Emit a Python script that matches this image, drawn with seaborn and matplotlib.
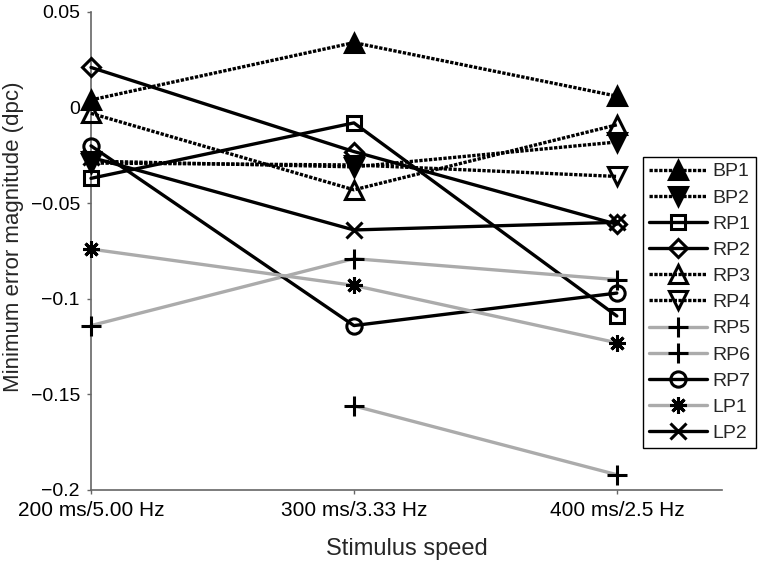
import numpy as np
import pandas as pd
import matplotlib
matplotlib.use('Agg')
import matplotlib.pyplot as plt
import seaborn as sns

# stimulus speed conditions and the per-subject minimum error values (dpc)
conditions = ['200 ms/5.00 Hz', '300 ms/3.33 Hz', '400 ms/2.5 Hz']
subjects = ['BP1', 'BP2', 'RP1', 'RP2', 'RP3', 'RP4', 'RP5', 'RP6', 'RP7', 'LP1', 'LP2']

bp1 = [0.004, 0.034, 0.006]
bp2 = [-0.028, -0.031, -0.018]
rp1 = [-0.037, -0.008, -0.109]
rp2 = [0.021, -0.023, -0.061]
rp3 = [-0.003, -0.043, -0.009]
rp4 = [-0.029, -0.030, -0.036]
rp5 = [-0.114, -0.079, -0.090]
rp6 = [np.nan, -0.156, -0.192]
rp7 = [-0.020, -0.114, -0.097]
lp1 = [-0.074, -0.093, -0.123]
lp2 = [-0.026, -0.064, -0.060]

values = [bp1, bp2, rp1, rp2, rp3, rp4, rp5, rp6, rp7, lp1, lp2]

# style per subject: line colour, line style, marker, marker size, filled marker?
dotted = (0, (1.0, 0.45))
gray = '#ababab'
styles = {
    'BP1': ('black', dotted, '^', 13, True),
    'BP2': ('black', dotted, 'v', 13, True),
    'RP1': ('black', '-', 's', 10, False),
    'RP2': ('black', '-', 'D', 9, False),
    'RP3': ('black', dotted, '^', 13, False),
    'RP4': ('black', dotted, 'v', 13, False),
    'RP5': (gray, '-', '+', 14, False),
    'RP6': (gray, '-', '+', 14, False),
    'RP7': ('black', '-', 'o', 11, False),
    'LP1': (gray, '-', (8, 2, 0), 12, False),
    'LP2': ('black', '-', 'x', 11, False),
}

sns.set_style('ticks')
plt.rcParams['font.family'] = ['Liberation Sans', 'DejaVu Sans']

fig = plt.figure(figsize=(7.6, 5.62), dpi=100)
ax = fig.add_axes([91 / 760, 1 - 490 / 562, (722 - 91) / 760, (490 - 12) / 562])

xpos = np.arange(1, len(conditions) + 1)
for name, vals in zip(subjects, values):
    color, ls, marker, msize, filled = styles[name]
    df = pd.DataFrame({'x': xpos, 'y': vals}).dropna()
    sns.lineplot(data=df, x='x', y='y', ax=ax, color=color, linestyle=ls,
                 linewidth=2.4, marker=marker, markersize=msize,
                 markerfacecolor='black' if filled else 'none',
                 markeredgecolor='black', markeredgewidth=2.2,
                 label=name, clip_on=False, zorder=3)

ax.set_xlim(1, 3.4)
ax.set_ylim(-0.2, 0.05)
ax.set_xticks(xpos)
ax.set_xticklabels(conditions, fontsize=15)
ax.set_yticks([-0.2, -0.15, -0.1, -0.05, 0, 0.05])
ax.set_yticklabels(['\u22120.2', '\u22120.15', '\u22120.1', '\u22120.05', '0', '0.05'], fontsize=14)
ax.tick_params(direction='out', length=3, width=1, colors='#666666', labelcolor='black', pad=5)
ax.set_xlabel('Stimulus speed', fontsize=17, labelpad=13)
ax.set_ylabel('Minimum error magnitude (dpc)', fontsize=16)
ax.yaxis.set_label_coords(-0.106, 0.53)
for side in ('top', 'right'):
    ax.spines[side].set_visible(False)
for side in ('left', 'bottom'):
    ax.spines[side].set_color('#666666')
    ax.spines[side].set_linewidth(1.2)

leg = ax.legend(loc='upper left', bbox_to_anchor=(643 / 760, 1 - 157 / 562),
                bbox_transform=fig.transFigure, fontsize=14, frameon=True,
                fancybox=False, framealpha=1, edgecolor='black', handlelength=3.0,
                handletextpad=0.25, labelspacing=0.44, borderpad=0.3, borderaxespad=0)
leg.get_frame().set_linewidth(1.0)

fig.savefig('out.png', dpi=100)
plt.close(fig)
